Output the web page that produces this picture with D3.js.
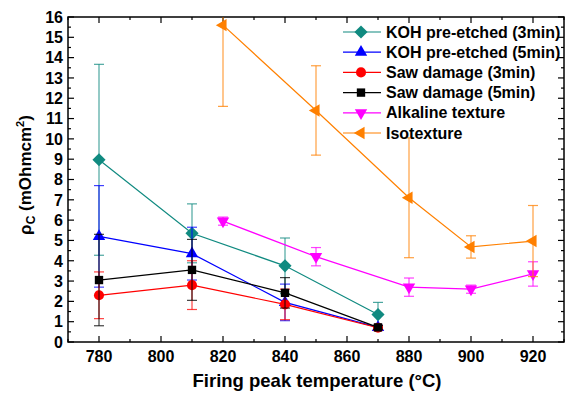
<!DOCTYPE html>
<html>
<head>
<meta charset="utf-8">
<script src="https://cdn.jsdelivr.net/npm/d3@7"></script>
<style>
body { margin: 0; background: #fff; }
text { font-family: Arial, "Liberation Sans", sans-serif; font-weight: bold; }
</style>
</head>
<body>
<div id="chart"></div>
<script>
var width = 571, height = 394;
var pLeft = 68, pRight = 564, pTop = 17, pBottom = 342;

// data
var names = ["KOH pre-etched (3min)", "KOH pre-etched (5min)", "Saw damage (3min)",
             "Saw damage (5min)", "Alkaline texture", "Isotexture"]
var colors = ["#108a80", "#0000ff", "#ff0000", "#000000", "#ff00ff", "#ff8000"]
var shapes = ["diamond", "up", "circle", "square", "down", "left"]

var koh3T = [780, 810, 840, 870], koh3V = [8.97, 5.35, 3.75, 1.35], koh3E = [4.7, 1.45, 1.37, 0.6]
var koh5T = [780, 810, 840, 870], koh5V = [5.2, 4.35, 1.95, 0.72], koh5E = [2.5, 1.3, 0.9, 0.1]
var saw3T = [780, 810, 840, 870], saw3V = [2.3, 2.8, 1.85, 0.7], saw3E = [1.15, 1.2, 0.75, 0.1]
var saw5T = [780, 810, 840, 870], saw5V = [3.05, 3.55, 2.42, 0.72], saw5E = [2.25, 1.5, 0.75, 0.1]
var alkT = [820, 850, 880, 900, 920], alkV = [5.95, 4.2, 2.7, 2.6, 3.35], alkE = [0.2, 0.45, 0.45, 0.2, 0.6]
var isoT = [820, 850, 880, 900, 920], isoV = [15.6, 11.4, 7.1, 4.68, 4.97], isoE = [4.0, 2.2, 2.95, 0.55, 1.75]

var xTicks = [780, 800, 820, 840, 860, 880, 900, 920]
var yTicks = d3.range(0, 17)

var series = [[koh3T, koh3V, koh3E], [koh5T, koh5V, koh5E], [saw3T, saw3V, saw3E],
              [saw5T, saw5V, saw5E], [alkT, alkV, alkE], [isoT, isoV, isoE]]
    .map(function(s, i){
        return { name: names[i], color: colors[i], shape: shapes[i],
                 pts: s[0].map(function(t, j){ return { t: t, v: s[1][j], e: s[2][j] } }) }
    })

var svg = d3.select("#chart").append("svg")
    .attr("width", width)
    .attr("height", height)

var x = d3.scaleLinear().domain([770, 930]).range([pLeft, pRight])
var y = d3.scaleLinear().domain([0, 16]).range([pBottom, pTop])

svg.append("clipPath").attr("id", "clip")
    .append("rect").attr("x", pLeft).attr("y", pTop)
    .attr("width", pRight - pLeft).attr("height", pBottom - pTop)

//Axes with inward ticks on all sides
var minorX = d3.range(770, 931, 10).filter(d => xTicks.indexOf(d) < 0)
var minorY = d3.range(0.5, 16, 1)

function tickLines(g, vals, pos, major, horiz, side, dir){
    var len = (major ? 6 : 3) * dir
    g.selectAll(null).data(vals).enter().append("line")
        .attr("x1", d => horiz ? pos(d) : side)
        .attr("x2", d => horiz ? pos(d) : side + len)
        .attr("y1", d => horiz ? side : pos(d))
        .attr("y2", d => horiz ? side + len : pos(d))
        .attr("stroke", "#000").attr("stroke-width", 1.2)
}

var ax = svg.append("g")
tickLines(ax, xTicks, x, true, true, pBottom, -1)
tickLines(ax, minorX, x, false, true, pBottom, -1)
tickLines(ax, xTicks, x, true, true, pTop, 1)
tickLines(ax, minorX, x, false, true, pTop, 1)
tickLines(ax, yTicks, y, true, false, pLeft, 1)
tickLines(ax, minorY, y, false, false, pLeft, 1)
tickLines(ax, yTicks, y, true, false, pRight, -1)
tickLines(ax, minorY, y, false, false, pRight, -1)

ax.append("rect")
    .attr("x", pLeft).attr("y", pTop)
    .attr("width", pRight - pLeft).attr("height", pBottom - pTop)
    .attr("fill", "none").attr("stroke", "#000").attr("stroke-width", 1.5)

ax.selectAll(".xl").data(xTicks).enter().append("text")
    .attr("x", d => x(d)).attr("y", 362)
    .attr("text-anchor", "middle")
    .style("font-size", "16px")
    .text(d => d)

ax.selectAll(".yl").data(yTicks).enter().append("text")
    .attr("x", 63).attr("y", d => y(d) + 5.8)
    .attr("text-anchor", "end")
    .style("font-size", "16px")
    .text(d => d)

svg.append("text")
    .attr("x", 317).attr("y", 387)
    .attr("text-anchor", "middle")
    .style("font-size", "18.5px")
    .text("Firing peak temperature (°C)")

var yt = svg.append("text")
    .attr("transform", "translate(31,175) rotate(-90)")
    .attr("text-anchor", "middle")
    .style("font-size", "17px")
yt.append("tspan").text("ρ")
yt.append("tspan").attr("dy", 4).style("font-size", "12px").text("C")
yt.append("tspan").attr("dy", -4).text(" (mOhmcm")
yt.append("tspan").attr("dy", -7).style("font-size", "11px").text("2")
yt.append("tspan").attr("dy", 7).text(")")

//Markers
function marker(g, shape, color){
    var s
    if(shape == "circle") s = d3.symbol(d3.symbolCircle, 80)
    else if(shape == "square") s = d3.symbol(d3.symbolSquare, 70)
    else if(shape == "diamond") s = d3.symbol(d3.symbolDiamond2, 110)
    else s = d3.symbol(d3.symbolTriangle2, 110)
    var rot = shape == "down" ? 180 : shape == "left" ? -90 : 0
    g.append("path").attr("d", s).attr("fill", color)
        .attr("transform", "rotate(" + rot + ")")
}

var plot = svg.append("g").attr("clip-path", "url(#clip)")

series.forEach(function(s){
    var g = plot.append("g")
    var eb = g.selectAll(".eb").data(s.pts).enter().append("g")
        .attr("stroke", s.color).attr("stroke-opacity", 0.75).attr("stroke-width", 1.2)
    eb.append("line")
        .attr("x1", d => x(d.t)).attr("x2", d => x(d.t))
        .attr("y1", d => y(d.v - d.e)).attr("y2", d => y(d.v + d.e))
    eb.append("line")
        .attr("x1", d => x(d.t) - 5).attr("x2", d => x(d.t) + 5)
        .attr("y1", d => y(d.v - d.e)).attr("y2", d => y(d.v - d.e))
    eb.append("line")
        .attr("x1", d => x(d.t) - 5).attr("x2", d => x(d.t) + 5)
        .attr("y1", d => y(d.v + d.e)).attr("y2", d => y(d.v + d.e))

    g.append("path").datum(s.pts)
        .attr("fill", "none").attr("stroke", s.color).attr("stroke-width", 1.2)
        .attr("d", d3.line().x(d => x(d.t)).y(d => y(d.v)))

    g.selectAll(".m").data(s.pts).enter().append("g")
        .attr("transform", d => "translate(" + x(d.t) + "," + y(d.v) + ")")
        .each(function(){ marker(d3.select(this), s.shape, s.color) })
})

//Legend
var legend = svg.append("g")
series.forEach(function(s, i){
    var ly = 32 + i * 20.2
    legend.append("line")
        .attr("x1", 343).attr("x2", 381).attr("y1", ly).attr("y2", ly)
        .attr("stroke", s.color).attr("stroke-width", 1.2)
    var m = legend.append("g").attr("transform", "translate(361," + ly + ")")
    marker(m, s.shape, s.color)
    legend.append("text")
        .attr("x", 386).attr("y", ly + 5.5)
        .style("font-size", "16px")
        .text(s.name)
})
</script>
</body>
</html>
